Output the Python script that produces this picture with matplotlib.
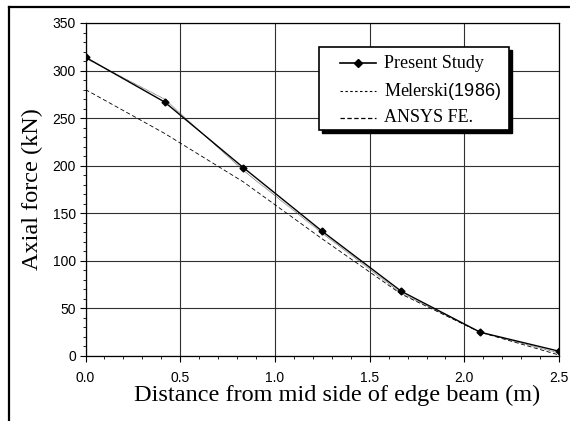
import numpy as np
import matplotlib.pyplot as plt
from matplotlib.lines import Line2D
from matplotlib.patches import Rectangle

plt.rcParams['mathtext.fontset'] = 'custom'
plt.rcParams['mathtext.rm'] = 'Liberation Serif'
plt.rcParams['mathtext.sf'] = 'Liberation Sans'

# данные
x = [0.0, 0.417, 0.833, 1.25, 1.667, 2.083, 2.5]
present = [314, 267, 198, 131, 68, 25, 5]
melerski = [313, 270, 195, 129, 66, 25, 3]
ansys = [280, 234, 183, 123, 65, 25, 1]

x_ticks = [0.0, 0.5, 1.0, 1.5, 2.0, 2.5]
y_ticks = [0, 50, 100, 150, 200, 250, 300, 350]

fig = plt.figure(figsize=(5.7, 4.21), dpi=100)
ax = fig.add_axes([0.150, 0.1544, 0.831, 0.791])

ax.plot(x, melerski, color='#555555', lw=0.6, linestyle=(0, (1, 0.6)))
ax.plot(x, ansys, color='black', lw=0.6, linestyle=(0, (5, 3)))
ax.plot(x, present, color='black', lw=1.0, marker='D', ms=3.5)

ax.set_xlim(0, 2.5)
ax.set_ylim(0, 350)
ax.set_xticks(x_ticks)
ax.set_xticklabels([f"{v:.1f}" for v in x_ticks])
ax.set_yticks(y_ticks)
ax.set_xticks(np.arange(0, 2.51, 0.1), minor=True)
ax.set_yticks(np.arange(0, 351, 10), minor=True)
ax.grid(True, which='major', color='#303030', lw=0.8)
ax.tick_params(which='major', direction='out', length=4, width=0.8,
               labelsize=10, colors='black')
ax.tick_params(which='minor', direction='out', length=2.5, width=0.6)
ax.tick_params(axis='x', which='major', pad=7)
ax.tick_params(axis='y', which='major', pad=3)
for lbl in ax.get_xticklabels() + ax.get_yticklabels():
    lbl.set_fontfamily('Liberation Sans')
for s in ax.spines.values():
    s.set_linewidth(0.9)

ax.set_xlabel("Distance from mid side of edge beam (m)", family='Liberation Serif',
              fontsize=17.5)
ax.xaxis.set_label_coords(0.531, -0.088)
ax.set_ylabel("Axial force (kN)", family='Liberation Serif', fontsize=17.5, labelpad=7)

# легенда вручную (рамка с тенью)
W, H = 570.0, 421.0
lx0, lx1, ly0, ly1 = 319, 509, 47, 130
fig.add_artist(Rectangle((lx0 / W + 3 / W, 1 - ly1 / H - 3 / H), (lx1 - lx0) / W, (ly1 - ly0) / H,
                         transform=fig.transFigure, facecolor='black', edgecolor='black', zorder=5))
fig.add_artist(Rectangle((lx0 / W, 1 - ly1 / H), (lx1 - lx0) / W, (ly1 - ly0) / H,
                         transform=fig.transFigure, facecolor='white', edgecolor='black',
                         lw=1.2, zorder=6))
rows = [("Present Study", dict(color='black', lw=1.2, marker='D', ms=4, markevery=[1]), 63),
        (r"Melerski$\mathsf{(1986)}$", dict(color='black', lw=0.8, linestyle=(0, (2.2, 2.2))), 91),
        ("ANSYS FE.", dict(color='black', lw=0.9, linestyle=(0, (3.5, 2))), 118)]
for label, style, yy in rows:
    yf = 1 - yy / H
    fig.add_artist(Line2D([340 / W, 358 / W, 376 / W], [yf, yf, yf], transform=fig.transFigure,
                          zorder=7, **style))
    fig.text(384 / W, yf, label, family='Liberation Serif', fontsize=13,
             va='center', ha='left', zorder=7)

# рамка рисунка слева и сверху
fig.add_artist(Line2D([8.5 / W, 8.5 / W], [0, 1 - 6.5 / H], transform=fig.transFigure,
                      color='black', lw=1.6))
fig.add_artist(Line2D([8.5 / W, 1], [1 - 6.5 / H, 1 - 6.5 / H], transform=fig.transFigure,
                      color='black', lw=1.6))

fig.savefig("out.png", dpi=100)
